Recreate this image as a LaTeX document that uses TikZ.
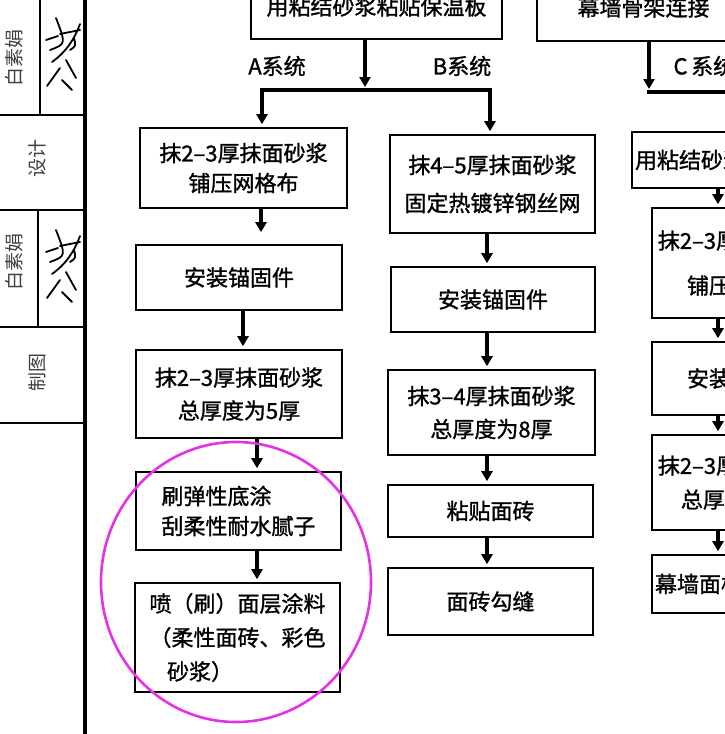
\documentclass[tikz,border=0pt]{standalone}
\usepackage{fontspec}
\setmainfont{Noto Sans CJK SC}
\newfontfamily\boxfont{Noto Sans CJK SC}[FakeBold=1.2]
\usepackage{tikz}
\usetikzlibrary{arrows.meta}

\begin{document}
\begin{tikzpicture}[x=1pt,y=-1pt,
    box/.style={draw,line width=1.6pt,align=center,inner sep=0pt,font=\boxfont\fontsize{22pt}{30pt}\selectfont},
    flow/.style={line width=3.6pt,-{Triangle[width=11pt,length=10pt]},shorten >=3pt},
    forkline/.style={line width=3.6pt,line cap=rect},
    syslabel/.style={font=\boxfont\fontsize{22pt}{26pt}\selectfont},
    sidetext/.style={font=\fontsize{19pt}{20pt}\selectfont,rotate=90,text=black!75},
    sideline/.style={line width=1.4pt},
    scribble/.style={line width=1.8pt,line cap=round,line join=round},
    highlight/.style={draw={rgb,255:red,228;green,50;blue,228},line width=2.6pt}]
    \useasboundingbox (0,0) rectangle (725,734);
    \clip (0,0) rectangle (725,734);

    % title block on the left
    \draw[line width=4pt] (85,0) -- (85,734);
    \foreach \y in {115,210,327,423}
        \draw[sideline] (0,\y) -- (85,\y);
    \draw[sideline] (40,0) -- (40,115);
    \draw[sideline] (38,210) -- (38,327);
    \node [sidetext] (name1) at (14,58) {白素娟};
    \node [sidetext] (design) at (37,158) {设计};
    \node [sidetext] (name2) at (14,262) {白素娟};
    \node [sidetext] (drawing) at (37,372) {制图};
    \foreach \dy in {0,212}
        \draw[scribble,shift={(0,\dy)}] (47,86) -- (60,68) (52,62) .. controls (66,52) and (74,40) .. (80,24)
            (60,34) -- (80,30) (50,50) .. controls (66,44) .. (56,18) (66,60) -- (76,78) (46,40) -- (58,36)
            (70,50) .. controls (76,46) .. (74,38) (62,80) -- (72,90);

    % top boxes
    \node [box,minimum width=251pt,minimum height=65pt] (top1) at (376.5,6.5) {用粘结砂浆粘贴保温板};
    \node [box,minimum width=213pt,minimum height=67pt] (top2) at (643.5,7.5) {幕墙骨架连接};

    \coordinate (forkAB) at (365,90);
    \coordinate (forkA) at (262,90);
    \coordinate (forkB) at (490,90);
    \coordinate (forkC) at (649,92);
    \coordinate (forkCend) at (780,92);
    \node [syslabel] (sysA) at (277,66) {A系统};
    \node [syslabel] (sysB) at (462,66) {B系统};
    \node [syslabel,anchor=west] (sysC) at (670,66) {C\,系统};

    % A system
    \node [box,minimum width=207pt,minimum height=80pt] (a1) at (243.5,168) {抹2–3厚抹面砂浆\\铺压网格布};
    \node [box,minimum width=206pt,minimum height=65pt] (a2) at (239,277.5) {安装锚固件};
    \node [box,minimum width=206pt,minimum height=88pt] (a3) at (239,394) {抹2–3厚抹面砂浆\\[3pt]总厚度为5厚};
    \node [box,minimum width=205pt,minimum height=78pt,align=left] (a4) at (238.5,511) {刷弹性底涂\\刮柔性耐水腻子};
    \node [box,minimum width=205pt,minimum height=109pt,align=left] (a5) at (237.5,637.5)
        {喷（刷）面层涂料\\[4pt]（柔性面砖、彩色\\[4pt]\hspace*{0.8em}砂浆）};

    % B system
    \node [box,minimum width=205pt,minimum height=98pt] (b1) at (492.5,184) {抹4–5厚抹面砂浆\\[8pt]固定热镀锌钢丝网};
    \node [box,minimum width=204pt,minimum height=65pt] (b2) at (493,299.5) {安装锚固件};
    \node [box,minimum width=207pt,minimum height=85pt] (b3) at (491.5,412.5) {抹3–4厚抹面砂浆\\[3pt]总厚度为8厚};
    \node [box,minimum width=205pt,minimum height=52pt] (b4) at (490.5,511) {粘贴面砖};
    \node [box,minimum width=205pt,minimum height=67pt] (b5) at (490.5,601.5) {面砖勾缝};

    % C system
    \node [box,minimum width=226pt,minimum height=56pt] (c1) at (745,160) {用粘结砂浆粘贴保温板};
    \node [box,minimum width=180pt,minimum height=110pt] (c2) at (742,263) {抹2–3厚抹面砂浆\\[15pt]铺压网格布};
    \node [box,minimum width=180pt,minimum height=73pt] (c3) at (742,378.5) {安装锚固件};
    \node [box,minimum width=180pt,minimum height=95pt] (c4) at (742,482.5) {抹2–3厚抹面砂浆\\[4pt]总厚度为5厚};
    \node [box,minimum width=180pt,minimum height=58pt,align=left,text width=174pt] (c5) at (742,584) {幕墙面板安装};

    % connectors
    \draw[flow] (top1.south -| forkAB) -- (forkAB);
    \draw[forkline] (forkA) -- (forkB);
    \draw[flow] (forkA) -- (a1.north -| forkA);
    \draw[flow] (forkB) -- (b1.north -| forkB);
    \draw[flow] (top2.south -| forkC) -- (forkC);
    \draw[forkline] (forkC) -- (forkCend);
    \draw[flow] (forkCend) -- (c1.north -| forkCend);

    \draw[flow,shorten >=12pt] (a1.south -| 261,0) -- (a2.north -| 261,0);
    \draw[flow] (a2.south -| 243,0) -- (a3.north -| 243,0);
    \draw[flow] (a3.south -| 257,0) -- (a4.north -| 257,0);
    \draw[flow] (a4.south -| 257,0) -- (a5.north -| 257,0);

    \draw[flow] (b1.south -| 487,0) -- (b2.north -| 487,0);
    \draw[flow] (b2.south -| 487,0) -- (b3.north -| 487,0);
    \draw[flow] (b3.south -| 487,0) -- (b4.north -| 487,0);
    \draw[flow] (b4.south -| 487,0) -- (b5.north -| 487,0);

    \draw[flow] (c1.south -| 718,0) -- (c2.north -| 718,0);
    \draw[flow] (c2.south -| 718,0) -- (c3.north -| 718,0);
    \draw[flow] (c3.south -| 718,0) -- (c4.north -| 718,0);
    \draw[flow] (c4.south -| 718,0) -- (c5.north -| 718,0);

    % highlight
    \draw[highlight] (236,582) ellipse [x radius=135, y radius=140];
\end{tikzpicture}
\end{document}
